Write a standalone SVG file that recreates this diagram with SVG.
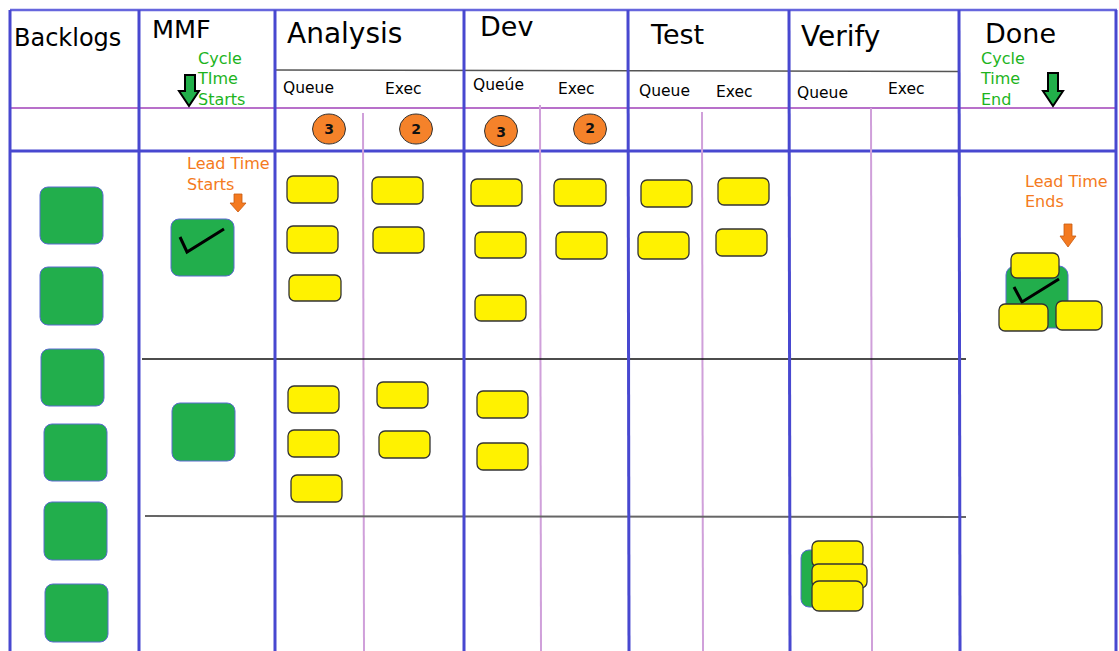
<svg xmlns="http://www.w3.org/2000/svg" width="1119" height="651" viewBox="0 0 1119 651">
<style>
.hdr{font-family:"DejaVu Sans","Liberation Sans",sans-serif;font-size:27px;fill:#000}
.sub{font-family:"DejaVu Sans","Liberation Sans",sans-serif;font-size:15.5px;fill:#000}
.grn{font-family:"DejaVu Sans","Liberation Sans",sans-serif;font-size:16px;fill:#1db41d}
.org{font-family:"DejaVu Sans","Liberation Sans",sans-serif;font-size:16px;fill:#f47a20}
.num{font-family:"DejaVu Sans","Liberation Sans",sans-serif;font-size:14px;font-weight:bold;fill:#111;text-anchor:middle}
.blue{stroke:#4848d0;stroke-width:3;fill:none}
.mag{stroke:#a040b8;stroke-width:1.4;fill:none}
.magv{stroke:#d0a0da;stroke-width:2;fill:none}
.card{fill:#fff200;stroke:#333;stroke-width:1.3}
.mmf{fill:#22ae4c;stroke:#5a6ad0;stroke-width:1}
.wip{fill:#f5822a;stroke:#333;stroke-width:1}
.garr{fill:#22b04a;stroke:#000;stroke-width:2;stroke-linejoin:miter}
.oarr{fill:#f47a20;stroke:#c85a10;stroke-width:0.8}
.chk{fill:none;stroke:#000;stroke-width:3}
</style>
<rect width="1119" height="651" fill="#fff"/>
<g id="grid">
  <line x1="10" y1="10" x2="1117" y2="10" stroke="#6666dd" stroke-width="2.5"/>
  <line class="mag" x1="10" y1="108" x2="1117" y2="108"/>
  <line class="blue" x1="10" y1="151" x2="1117" y2="151"/>
  <line x1="275" y1="70" x2="959" y2="71.5" stroke="#555" stroke-width="1.5"/>
  <line class="magv" x1="363" y1="113" x2="364" y2="651"/>
  <line class="magv" x1="540" y1="105" x2="541" y2="651"/>
  <line class="magv" x1="702" y1="112" x2="703" y2="651"/>
  <line class="magv" x1="871" y1="108" x2="872" y2="651"/>
  <line x1="142" y1="359" x2="966" y2="359" stroke="#111" stroke-width="1.5"/>
  <line x1="145" y1="516" x2="966" y2="517" stroke="#666" stroke-width="2"/>
  <line class="blue" x1="10" y1="10" x2="10" y2="651"/>
  <line class="blue" x1="139" y1="10" x2="139" y2="651"/>
  <line class="blue" x1="275" y1="10" x2="275" y2="651"/>
  <line class="blue" x1="464" y1="10" x2="464" y2="651"/>
  <line class="blue" x1="628" y1="10" x2="629" y2="651"/>
  <line class="blue" x1="789" y1="10" x2="790" y2="651"/>
  <line class="blue" x1="959" y1="10" x2="960" y2="651"/>
  <line class="blue" x1="1116" y1="10" x2="1116" y2="651"/>
</g>
<g id="headers">
  <text class="hdr" x="14" y="46" style="font-size:24px">Backlogs</text>
  <text class="hdr" x="152" y="38" style="font-size:25.5px">MMF</text>
  <text class="hdr" x="287" y="43" style="font-size:28px">Analysis</text>
  <text class="hdr" x="480" y="36">Dev</text>
  <text class="hdr" x="651" y="44">Test</text>
  <text class="hdr" x="801" y="46" style="font-size:28px">Verify</text>
  <text class="hdr" x="985" y="43">Done</text>
  <text class="sub" x="283" y="93">Queue</text>
  <text class="sub" x="385" y="94">Exec</text>
  <text class="sub" x="473" y="90">Queúe</text>
  <text class="sub" x="558" y="94">Exec</text>
  <text class="sub" x="639" y="96">Queue</text>
  <text class="sub" x="716" y="97">Exec</text>
  <text class="sub" x="797" y="98">Queue</text>
  <text class="sub" x="888" y="94">Exec</text>
</g>
<g id="cycle-start">
  <text class="grn" x="198" y="64">Cycle</text>
  <text class="grn" x="198" y="84">TIme</text>
  <text class="grn" x="198" y="105">Starts</text>
  <polygon class="garr" points="185,75 195,75 195,91 199,91 189,106 179,91 185,91"/>
</g>
<g id="cycle-end">
  <text class="grn" x="981" y="64">Cycle</text>
  <text class="grn" x="981" y="84">Time</text>
  <text class="grn" x="981" y="105">End</text>
  <polygon class="garr" points="1048,73 1058,73 1058,91 1063,91 1053,106 1043,91 1048,91"/>
</g>
<g id="wip-limits">
  <ellipse class="wip" cx="329" cy="129" rx="16.5" ry="15"/>
  <text class="num" x="329" y="134">3</text>
  <ellipse class="wip" cx="416" cy="129" rx="16.5" ry="15"/>
  <text class="num" x="416" y="134">2</text>
  <ellipse class="wip" cx="501" cy="131" rx="16.5" ry="15.5"/>
  <text class="num" x="501" y="137">3</text>
  <ellipse class="wip" cx="590" cy="129" rx="16.5" ry="15"/>
  <text class="num" x="590" y="133">2</text>
</g>
<g id="backlog">
  <rect class="mmf" x="40" y="187" width="63" height="57" rx="8"/>
  <rect class="mmf" x="40" y="267" width="63" height="58" rx="8"/>
  <rect class="mmf" x="41" y="349" width="63" height="57" rx="8"/>
  <rect class="mmf" x="44" y="424" width="63" height="57" rx="8"/>
  <rect class="mmf" x="44" y="502" width="63" height="58" rx="8"/>
  <rect class="mmf" x="45" y="584" width="63" height="58" rx="8"/>
</g>
<g id="lead-start">
  <text class="org" x="187" y="169">Lead Time</text>
  <text class="org" x="187" y="190">Starts</text>
  <polygon class="oarr" points="234,194 242,194 242,203 246,203 238,212 230,203 234,203"/>
</g>
<g id="mmf-1">
  <rect class="mmf" x="171" y="219" width="63" height="57" rx="8"/>
  <polyline class="chk" points="180,237 187,252 224,229"/>
</g>
<g id="mmf-2">
  <rect class="mmf" x="172" y="403" width="63" height="58" rx="8"/>
</g>
<g id="cards-lane1">
  <rect class="card" x="287" y="176" width="51" height="27" rx="6"/>
  <rect class="card" x="287" y="226" width="51" height="27" rx="6"/>
  <rect class="card" x="289" y="275" width="52" height="26" rx="6"/>
  <rect class="card" x="372" y="177" width="51" height="27" rx="6"/>
  <rect class="card" x="373" y="227" width="51" height="26" rx="6"/>
  <rect class="card" x="471" y="179" width="51" height="27" rx="6"/>
  <rect class="card" x="475" y="232" width="51" height="26" rx="6"/>
  <rect class="card" x="475" y="295" width="51" height="26" rx="6"/>
  <rect class="card" x="554" y="179" width="52" height="27" rx="6"/>
  <rect class="card" x="556" y="232" width="51" height="27" rx="6"/>
  <rect class="card" x="641" y="180" width="51" height="27" rx="6"/>
  <rect class="card" x="638" y="232" width="51" height="27" rx="6"/>
  <rect class="card" x="718" y="178" width="51" height="27" rx="6"/>
  <rect class="card" x="716" y="229" width="51" height="27" rx="6"/>
</g>
<g id="cards-lane2">
  <rect class="card" x="288" y="386" width="51" height="27" rx="6"/>
  <rect class="card" x="288" y="430" width="51" height="27" rx="6"/>
  <rect class="card" x="291" y="475" width="51" height="27" rx="6"/>
  <rect class="card" x="377" y="382" width="51" height="26" rx="6"/>
  <rect class="card" x="379" y="431" width="51" height="27" rx="6"/>
  <rect class="card" x="477" y="391" width="51" height="27" rx="6"/>
  <rect class="card" x="477" y="443" width="51" height="27" rx="6"/>
</g>
<g id="verify-stack">
  <rect class="mmf" x="801" y="550" width="40" height="57" rx="8"/>
  <rect class="card" x="812" y="541" width="51" height="26" rx="6"/>
  <rect class="card" x="812" y="564" width="55" height="24" rx="6"/>
  <rect class="card" x="812" y="581" width="51" height="30" rx="7"/>
</g>
<g id="lead-end">
  <text class="org" x="1025" y="187">Lead Time</text>
  <text class="org" x="1025" y="207">Ends</text>
  <polygon class="oarr" points="1064,224 1072,224 1072,236 1076,236 1068,247 1060,236 1064,236"/>
</g>
<g id="done-stack">
  <rect class="mmf" x="1006" y="266" width="62" height="62" rx="9"/>
  <polyline class="chk" points="1014,287 1022,302 1059,279"/>
  <rect class="card" x="1011" y="253" width="48" height="25" rx="6"/>
  <rect class="card" x="999" y="304" width="49" height="27" rx="6"/>
  <rect class="card" x="1056" y="301" width="46" height="29" rx="6"/>
</g>
</svg>
